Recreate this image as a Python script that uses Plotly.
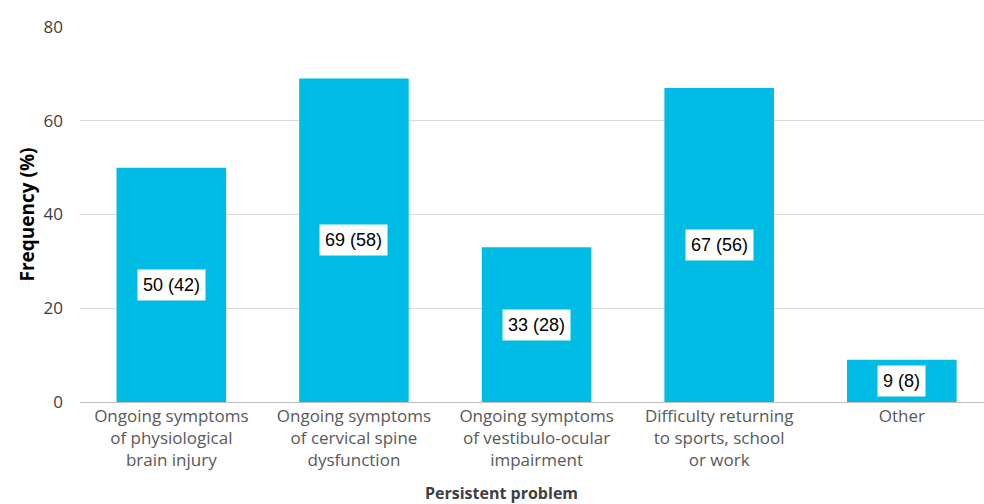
import plotly.graph_objects as go

categories = [
    "Ongoing symptoms<br>of physiological<br>brain injury",
    "Ongoing symptoms<br>of cervical spine<br>dysfunction",
    "Ongoing symptoms<br>of vestibulo-ocular<br>impairment",
    "Difficulty returning<br>to sports, school<br>or work",
    "Other",
]
percent = [50, 69, 33, 67, 9]
counts = [42, 58, 28, 56, 8]
y_ticks = [0, 20, 40, 60, 80]

fig = go.Figure()
fig.add_trace(go.Bar(
    x=categories, y=percent, width=0.6,
    marker=dict(color="#00BCE4", line=dict(width=0)),
    hoverinfo="skip",
))

for c, p, n in zip(categories, percent, counts):
    fig.add_annotation(
        x=c, y=p / 2, text=f"{p} ({n})", showarrow=False,
        font=dict(family="Liberation Sans, Arial", size=18, color="#000000"),
        bgcolor="#FFFFFF", borderpad=5,
    )

fig.add_annotation(
    xref="paper", yref="paper", x=0.466, y=-0.243,
    xanchor="center", yanchor="middle", showarrow=False,
    text="<b>Persistent problem</b>",
    font=dict(family="Open Sans, Noto Sans, sans-serif", size=16, color="#404040"),
)

fig.update_layout(
    width=984, height=504,
    margin=dict(l=80, r=0, t=27, b=102),
    plot_bgcolor="#FFFFFF", paper_bgcolor="#FFFFFF",
    showlegend=False,
    font=dict(family="Open Sans, Noto Sans, sans-serif", size=16, color="#595959"),
    xaxis=dict(
        range=[-0.5, 4.45], showgrid=False, ticks="", ticklabelstandoff=2,
        showline=False,
        tickfont=dict(size=17, color="#595959"),
    ),
    yaxis=dict(
        range=[0, 80], tickvals=y_ticks, showgrid=True, gridcolor="#D9D9D9", gridwidth=1,
        zeroline=True, zerolinecolor="#BFBFBF", zerolinewidth=1,
        ticks="", ticklabelstandoff=16,
        tickfont=dict(size=17, color="#404040"),
        title=dict(text="<b>Frequency (%)</b>", font=dict(size=19, color="#000000"), standoff=3),
    ),
)

fig.write_html("out.html")
